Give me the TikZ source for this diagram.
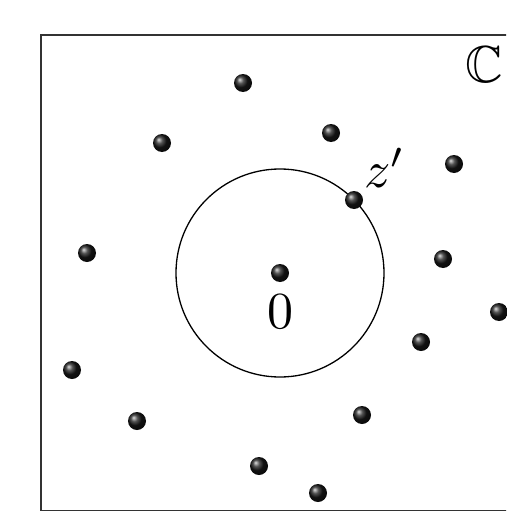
\documentclass[tikz,border=0pt]{standalone}
\usepackage{amssymb}
\begin{document}
\begin{tikzpicture}[x=1pt,y=-1pt,
  dot/.style={circle,inner sep=0pt,minimum size=18pt,shading=ball,ball color=black!90},
  lbl/.style={inner sep=0pt,scale=5.2},
  frame/.style={draw=black!80,line width=1.8pt},
  disk/.style={draw,circle,line width=1.3pt,inner sep=0pt,minimum size=208pt}]
\useasboundingbox (0,0) rectangle (506,511);
\begin{scope}
\clip (0,0) rectangle (506,511);
\draw[frame] (41,35) rectangle (560,511);
\end{scope}
\node[disk] (D) at (280,273) {};
\node[dot] (o) at (280,273) {};
\node[dot] (zp) at (354,200) {};
\foreach \n/\x/\y in {a/243/83, b/162/143, c/331/133, d/454/164, e/87/253, f/443/259, g/499/312, h/421/342, i/72/370, j/137/421, k/362/415, l/259/466, m/318/493}
  \node[dot] (\n) at (\x,\y) {};
\node[lbl] (zero) at (280,312) {$0$};
\node[lbl] (zl) at (385,168) {$z'$};
\node[lbl,anchor=east] (CC) at (504,65) {$\mathbb{C}$};
\end{tikzpicture}
\end{document}
